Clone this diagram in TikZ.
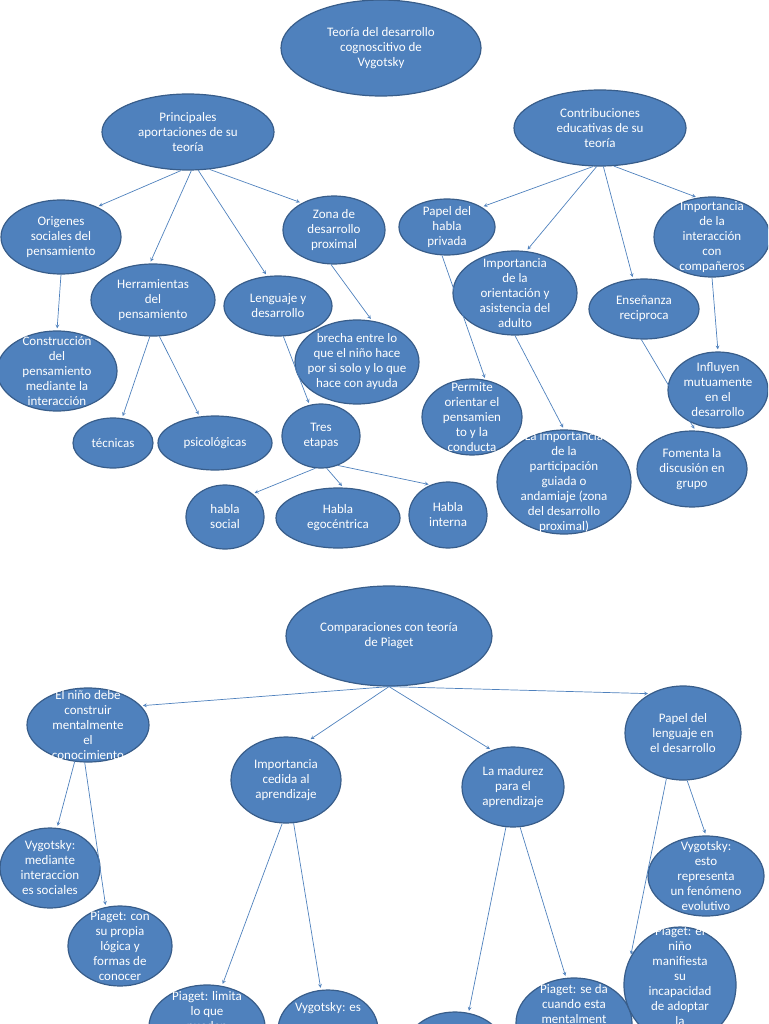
\documentclass[tikz,border=0pt]{standalone}
\usepackage{fontspec}
\setmainfont{Carlito}
\usetikzlibrary{shapes.geometric}
\definecolor{bubfill}{HTML}{4F81BD}
\definecolor{bubline}{HTML}{385D8A}
\tikzset{
  bub/.style={ellipse, fill=bubfill, draw=bubline, line width=1.2pt, inner sep=0pt},
  txt/.style={text=white, align=center, font=\fontsize{13}{15}\selectfont},
  link/.style={->, >=stealth, draw=bubfill, line width=0.7pt, shorten >=2pt}
}
% node: name, x, y, rx, ry, text
\newcommand{\bubble}[6]{\node[bub, minimum width=#4*2, minimum height=#5*2,
  label={[txt]center:#6}] (#1) at (#2,#3) {};}
% cut-off node at the bottom edge: text hangs from the top
\newcommand{\bottombubble}[6]{\node[bub, minimum width=#4*2, minimum height=#5*2,
  label={[txt, anchor=north, yshift=-4pt]north:#6}] (#1) at (#2,#3) {};}
\begin{document}
\begin{tikzpicture}[x=1pt,y=-1pt]
\useasboundingbox (0,0) rectangle (768,1024);
\clip (0,0) rectangle (768,1024);
% First map
\bubble{teoria}{381}{48}{100}{48}{Teoría del desarrollo\\cognoscitivo de\\Vygotsky}
\bubble{princ}{188}{132}{86}{38}{Principales\\aportaciones de su\\teoría}
\bubble{contrib}{600}{128}{86}{38}{Contribuciones\\educativas de su\\teoría}
\bubble{orig}{61}{237}{60}{37}{Origenes\\sociales del\\pensamiento}
\bubble{herram}{153}{300}{62}{36}{Herramientas\\del\\pensamiento}
\bubble{lenguaje}{278}{306}{54}{30}{Lenguaje y\\desarrollo}
\bubble{zona}{334}{230}{51}{34}{Zona de\\desarrollo\\proximal}
\bubble{brecha}{357}{362}{62}{42}{brecha entre lo\\que el niño  hace\\por si solo y lo que\\hace con ayuda}
\bubble{constr}{57}{371}{60}{40}{Construcción\\del\\pensamiento\\mediante la\\interacción}
\bubble{tecnicas}{113}{443}{40}{25}{técnicas}
\bubble{psico}{215}{443}{57}{27}{psicológicas}
\bubble{tres}{321}{436}{39}{32}{Tres\\etapas}
\bubble{social}{225}{517}{39}{32}{habla\\social}
\bubble{egoc}{338}{518}{62}{30}{Habla\\egocéntrica}
\bubble{interna}{448}{515}{39}{33}{Habla\\interna}
\bubble{papel}{447}{227}{48}{28}{Papel del\\habla\\privada}
\bubble{orient}{515}{293}{62}{42}{Importancia\\de la\\orientación y\\asistencia del\\adulto}
\bubble{permite}{472}{417}{50}{38}{Permite\\orientar el\\pensamien\\to y la\\conducta}
\bubble{ensen}{644}{309}{55}{30}{Enseñanza\\reciproca}
\bubble{partic}{564}{482}{67}{52}{La importancia\\de la\\participación\\guiada o\\andamiaje (zona\\del desarrollo\\proximal)}
\bubble{fomenta}{692}{469}{55}{38}{Fomenta la\\discusión en\\grupo}
\bubble{interac}{712}{237}{58}{40}{Importancia\\de la\\interacción\\con\\compañeros}
\bubble{influyen}{718}{390}{50}{38}{Influyen\\mutuamente\\en el\\desarrollo}
% Second map
\bubble{compar}{389}{636}{103}{50}{Comparaciones con teoría\\de Piaget}
\bubble{nino}{88}{725}{61}{37}{El niño debe\\construir\\mentalmente\\el\\conocimiento}
\bubble{cedida}{286}{780}{55}{43}{Importancia\\cedida al\\aprendizaje}
\bubble{madurez}{513}{787}{51}{40}{La madurez\\para el\\aprendizaje}
\bubble{papleng}{683}{733}{58}{47}{Papel del\\lenguaje en\\el desarrollo}
\bubble{vygA}{50}{868}{50}{40}{Vygotsky:\\mediante\\interaccion\\es sociales}
\bubble{piagA}{120}{946}{52}{40}{Piaget: con\\su propia\\lógica y\\formas de\\conocer}
\bottombubble{piagB}{207}{1027}{58}{42}{Piaget: limita\\lo que\\pueden}
\bottombubble{vygB}{328}{1030}{50}{40}{\\Vygotsky: es}
\bottombubble{vygC}{455}{1050}{50}{38}{}
\bottombubble{piagC}{574}{1023}{58}{45}{Piaget: se da\\cuando esta\\mentalment}
\bubble{vygD}{706}{876}{58}{40}{Vygotsky:\\esto\\representa\\un fenómeno\\evolutivo}
\bubble{piagD}{680}{985}{56}{58}{Piaget: el\\niño\\manifiesta\\su\\incapacidad\\de adoptar\\la\\perspectiva}
% Connectors
\draw[link] (princ.-100) -- (orig.40);
\draw[link] (princ.-85) -- (herram.95);
\draw[link] (princ.-75) -- (lenguaje.110);
\draw[link] (princ.-60) -- (zona.140);
\draw[link] (orig.-90) -- (constr.90);
\draw[link] (herram.-95) -- (tecnicas.70);
\draw[link] (herram.-80) -- (psico.120);
\draw[link] (lenguaje.-80) -- (tres.110);
\draw[link] (zona.-95) -- (brecha.70);
\draw[link] (tres.-100) -- (social.40);
\draw[link] (tres.-80) -- (egoc.80);
\draw[link] (tres.-60) -- (interna.120);
\draw[link] (contrib.-100) -- (papel.30);
\draw[link] (contrib.-95) -- (orient.75);
\draw[link] (contrib.-85) -- (ensen.110);
\draw[link] (contrib.-70) -- (interac.110);
\draw[link] (papel.-100) -- (permite.70);
\draw[link] (orient.-90) -- (partic.90);
\draw[link] (ensen.-95) -- (fomenta.85);
\draw[link] (interac.-90) -- (influyen.90);
\draw[link] (compar.-90) -- (nino.20);
\draw[link] (compar.-90) -- (cedida.60);
\draw[link] (compar.-90) -- (madurez.120);
\draw[link] (compar.-90) -- (papleng.130);
\draw[link] (nino.-110) -- (vygA.80);
\draw[link] (nino.-95) -- (piagA.110);
\draw[link] (cedida.-95) -- (piagB.70);
\draw[link] (cedida.-80) -- (vygB.100);
\draw[link] (madurez.-100) -- (vygC.70);
\draw[link] (madurez.-80) -- (piagC.100);
\draw[link] (papleng.-110) -- (piagD.150);
\draw[link] (papleng.-85) -- (vygD.90);
\end{tikzpicture}
\end{document}
